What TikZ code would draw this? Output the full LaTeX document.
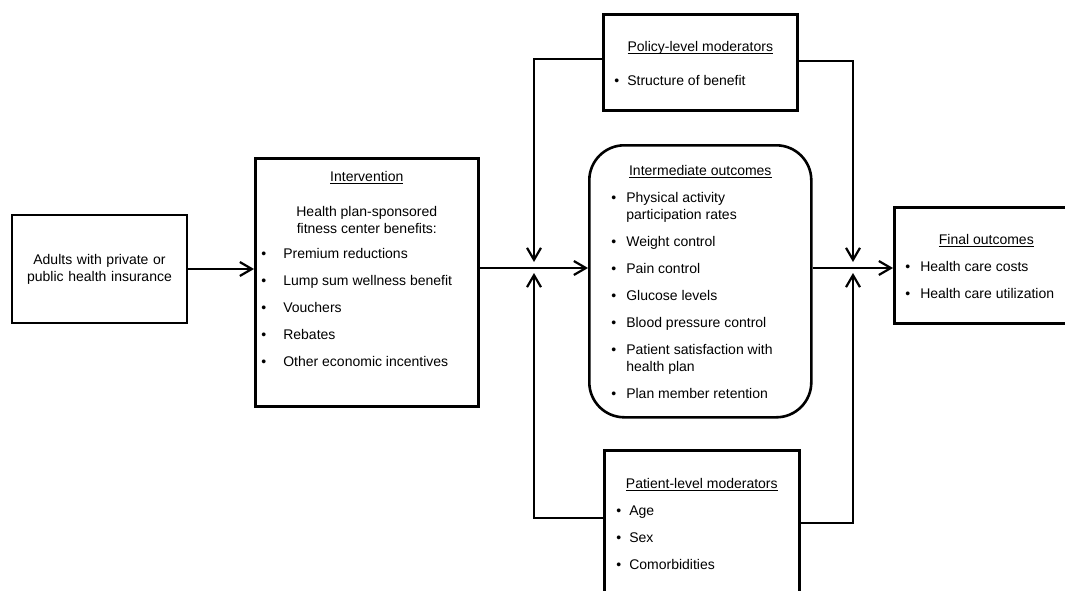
\documentclass[tikz,border=0pt]{standalone}
\usepackage{fontspec}
\setmainfont{Liberation Sans}
\usetikzlibrary{arrows.meta}

\newlength{\bw}
% underlined, centred heading of a box
\newcommand{\ttl}[1]{{\centering\setbox0\hbox{#1}\leavevmode\rlap{\rule[-2.5pt]{\wd0}{0.8pt}}\box0\strut\par}}
% bullet item, optional gap above
\newcommand{\bitem}[2][10pt]{\par\vspace{#1}{\raggedright\hangindent=\bw\hangafter=1\noindent\makebox[\bw][l]{\textbullet}#2\strut\par}}
% fixed size body: height, width, top gap, content
\newcommand{\boxbody}[4]{\parbox[t][#1][t]{#2}{\fontsize{14}{17}\selectfont\vspace*{#3}#4}}

\begin{document}
\begin{tikzpicture}[x = 1pt, y = -1pt,
                    box/.style  = {draw, line width=2.6pt, inner ysep=0pt, anchor=north west},
                    link/.style = {line width=2.2pt},
                    arr/.style  = {link, -{Straight Barb[length=12pt,width=14pt]}}]

    \useasboundingbox (0,0) rectangle (1065,591);

    % junctions where the moderators meet the main chain
    \coordinate (jl) at (534,268);
    \coordinate (jr) at (853,268);

    \node[box, anchor=center, minimum width=175pt, minimum height=108pt, text width=160pt,
          align=center, font=\fontsize{14}{17}\selectfont] (adults) at (99.5,269)
        {Adults with private or\\public health insurance};

    \node[box, inner xsep=6pt] (interv) at (254,157) {\setlength{\bw}{22pt}%
        \boxbody{248pt}{211pt}{11.1pt}{%
            \ttl{Intervention}
            \par\vspace{18pt}{\centering Health plan-sponsored\\fitness center benefits:\par}
            \bitem[8pt]{Premium reductions}
            \bitem{Lump sum wellness benefit}
            \bitem{Vouchers}
            \bitem{Rebates}
            \bitem{Other economic incentives}}};

    \node[box, inner xsep=11pt] (policy) at (602,13) {\setlength{\bw}{13pt}%
        \boxbody{96pt}{172pt}{25.1pt}{%
            \ttl{Policy-level moderators}
            \bitem[17pt]{Structure of benefit}}};

    \node[box, rounded corners=35pt, inner xsep=22pt] (interm) at (588,144) {\setlength{\bw}{15pt}%
        \boxbody{272pt}{178pt}{18.1pt}{%
            \ttl{Intermediate outcomes}
            \bitem{Physical activity\newline participation rates}
            \bitem{Weight control}
            \bitem{Pain control}
            \bitem{Glucose levels}
            \bitem{Blood pressure control}
            \bitem{Patient satisfaction with\newline health plan}
            \bitem{Plan member retention}}};

    \node[box, inner xsep=11pt] (final) at (893,206) {\setlength{\bw}{15pt}%
        \boxbody{116pt}{162pt}{25.1pt}{%
            \ttl{Final outcomes}
            \bitem{Health care costs}
            \bitem{Health care utilization}}};

    \node[box, inner xsep=12pt] (patient) at (603,449) {\setlength{\bw}{13pt}%
        \boxbody{160pt}{171pt}{26.1pt}{%
            \ttl{Patient-level moderators}
            \bitem{Age}
            \bitem{Sex}
            \bitem{Comorbidities}}};

    % main chain
    \draw[arr] (adults.east) -- (adults.east -| interv.west);
    \draw[arr] (interv.east |- jl) -- (interm.west |- jl);
    \draw[arr] (interm.east |- jr) -- (final.west |- jr);

    % moderators
    \draw[arr] ([yshift=3pt]policy.west) -| ([yshift=6pt]jl);
    \draw[arr] ([yshift=1pt]policy.east) -| ([yshift=6pt]jr);
    \draw[arr] ([yshift=12pt]patient.west) -| ([yshift=-5pt]jl);
    \draw[arr] ([yshift=7pt]patient.east) -| ([yshift=-5pt]jr);
\end{tikzpicture}
\end{document}
